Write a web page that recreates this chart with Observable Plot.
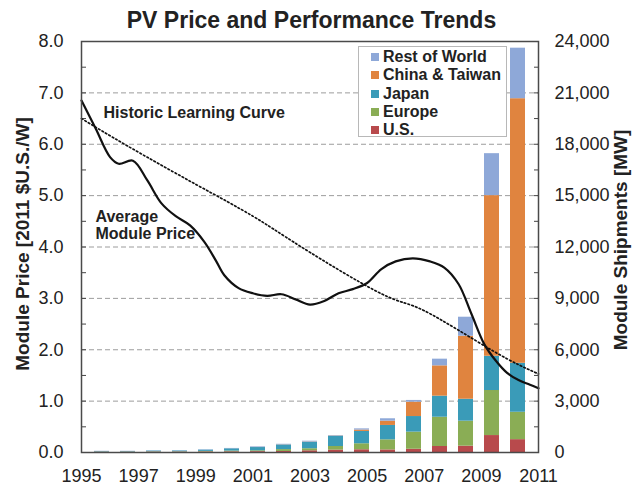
<!DOCTYPE html>
<html><head><meta charset="utf-8">
<script src="https://cdn.jsdelivr.net/npm/d3@7"></script>
<script src="https://cdn.jsdelivr.net/npm/@observablehq/plot@0.6"></script>
<style>
body{margin:0;background:#fff;font-family:"Liberation Sans",Arial,sans-serif;}
#wrap{position:relative;width:639px;height:486px;overflow:hidden;background:#fff}
#wrap svg{position:absolute;left:0;top:0;}
#title{position:absolute;left:0;width:623px;top:7px;text-align:center;font-weight:bold;font-size:23px;color:#222;z-index:5;line-height:26px}
#legend{position:absolute;left:358px;top:46px;width:149px;height:91px;border:1px solid #b8b8b8;background:#fff;z-index:5;box-sizing:border-box;padding-top:1px}
.li{height:18.3px;line-height:18.3px;font-weight:bold;font-size:16px;color:#222;white-space:nowrap;padding-left:12px}
.sw{display:inline-block;width:8px;height:8px;margin-right:4px;vertical-align:1px}
</style></head><body>
<div id="wrap"><div id="title">PV Price and Performance Trends</div><div id="legend"></div></div>
<script>
// ---- data ----
const years = [1995,1996,1997,1998,1999,2000,2001,2002,2003,2004,2005,2006,2007,2008,2009,2010,2011];
const regions = ["U.S.","Europe","Japan","China & Taiwan","Rest of World"];
const regionColors = ["#b84a4c","#8aad55","#3a9bb8","#e0843f","#8ea8d8"];
// module shipments [MW]
const usMW     = [20,20,25,25,35,40,50,60,100,140,160,150,190,350,370,990,750];
const europeMW = [15,15,20,20,30,45,50,110,120,210,350,590,1000,1710,1460,2630,1600];
const japanMW  = [25,25,40,45,75,130,190,270,380,600,720,840,910,1230,1280,2000,2860];
const chinaMW  = [0,0,0,0,0,2,5,10,15,15,80,250,840,1770,3680,9380,15450];
const rowMW    = [10,10,15,15,20,20,35,30,45,25,70,140,100,390,1110,2450,2950];
// average module price [2011 $/W]
const priceYear = [1995,1995.5,1996,1996.3,1996.8,1997.3,1997.8,1998.3,1998.8,1999.3,1999.7,2000,2000.5,2001,2001.5,2002,2002.5,2003,2003.5,2004,2004.5,2005,2005.5,2006,2006.6,2007.2,2007.7,2008.2,2008.65,2009.1,2009.5,2009.9,2010.3,2010.7,2011];
const priceVal  = [6.85,6.3,5.75,5.62,5.68,5.3,4.85,4.6,4.42,4.1,3.74,3.45,3.2,3.1,3.05,3.08,2.98,2.88,2.95,3.1,3.18,3.3,3.57,3.72,3.78,3.72,3.6,3.28,2.7,2.11,1.79,1.55,1.41,1.32,1.25];
// historic learning curve
const learnYear = [1995,1996.6,1999,2001,2002.7,2005.5,2007,2009.4,2011];
const learnVal  = [6.5,5.97,5.22,4.6,4.0,3.09,2.76,1.98,1.53];
// ticks & labels
const yearTicks = [1995,1997,1999,2001,2003,2005,2007,2009,2011];
const priceTicks = [0,1,2,3,4,5,6,7,8];
const priceMinor = [0,0.5,1,1.5,2,2.5,3,3.5,4,4.5,5,5.5,6,6.5,7,7.5,8];
const shipTicks = [0,3000,6000,9000,12000,15000,18000,21000,24000];
const shipMinor = [0,1500,3000,4500,6000,7500,9000,10500,12000,13500,15000,16500,18000,19500,21000,22500,24000];
const gridShip = [3000,6000,9000,12000,15000,18000,21000];
const leftTitle = "Module Price [2011 $U.S./W]";
const rightTitle = "Module Shipments [MW]";
const noteText = ["Historic Learning Curve","Average\nModule Price"];
const noteYear = [1995.77,1995.49];
const notePrice = [6.62,4.43];

// ---- build ----
const FONT = '"Liberation Sans",Arial,sans-serif';
const M = {width:639,height:486,marginLeft:81,marginRight:101,marginTop:41,marginBottom:34};
const series = [usMW,europeMW,japanMW,chinaMW,rowMW];
const rows = [];
regions.forEach((r,k)=>years.forEach((yr,i)=>rows.push({year:String(yr),region:r,mw:series[k][i]})));
const price = priceYear.map((y,i)=>({year:y,price:priceVal[i]}));
const learn = learnYear.map((y,i)=>({year:y,price:learnVal[i]}));
const notes = noteText.map((t,i)=>({t,year:noteYear[i],price:notePrice[i]}));

const bars = Plot.plot({
  ...M,
  style:{background:"transparent",fontFamily:FONT,fontSize:"18px",color:"#222",overflow:"visible"},
  x:{type:"band",domain:years.map(String),paddingInner:0.42,paddingOuter:0.21,axis:null},
  y:{domain:[0,24000],axis:null},
  color:{domain:regions,range:regionColors},
  marks:[
    Plot.ruleY(gridShip,{stroke:"#9c9c9c",strokeDasharray:"5,3",strokeWidth:1}),
    Plot.barY(rows,{x:"year",y:"mw",fill:"region",order:regions}),
    Plot.axisY({anchor:"right",ticks:shipTicks,tickFormat:d3.format(","),tickSize:0,tickPadding:16,label:null,fontSize:18}),
    Plot.axisY({anchor:"right",ticks:shipMinor,tickSize:-5,tickFormat:()=>"",label:null,stroke:"#444"}),
    Plot.text([rightTitle],{frameAnchor:"right",textAnchor:"middle",dx:82,dy:-7,rotate:-90,text:d=>d,fontWeight:"bold",fontSize:19,fill:"#222"})
  ]
});

const lines = Plot.plot({
  ...M,
  style:{background:"transparent",fontFamily:FONT,fontSize:"18px",color:"#222",overflow:"visible"},
  x:{domain:[1995,2011]},
  y:{domain:[0,8]},
  marks:[
    Plot.axisX({ticks:yearTicks,tickFormat:d=>String(d),tickSize:0,tickPadding:17,label:null,fontSize:18}),
    Plot.axisY({ticks:priceTicks,tickFormat:d3.format(".1f"),tickSize:0,tickPadding:18,label:null,fontSize:18}),
    Plot.axisY({ticks:priceMinor,tickSize:-5,tickFormat:()=>"",label:null,stroke:"#444"}),
    Plot.line(learn,{x:"year",y:"price",curve:"natural",stroke:"#111",strokeWidth:1.7,strokeDasharray:"1.6,2.4"}),
    Plot.line(price,{x:"year",y:"price",curve:"catmull-rom",stroke:"#111",strokeWidth:2.2}),
    Plot.text(notes,{x:"year",y:"price",text:"t",textAnchor:"start",fontWeight:"bold",fontSize:16,lineHeight:1.07,fill:"#222"}),
    Plot.text([leftTitle],{frameAnchor:"left",textAnchor:"middle",dx:-59,dy:-3,rotate:-90,text:d=>d,fontWeight:"bold",fontSize:19,fill:"#222"}),
    Plot.frame({stroke:"#4a4a4a",strokeWidth:1.5})
  ]
});

const wrap = document.getElementById("wrap");
wrap.appendChild(bars);
wrap.appendChild(lines);
const leg = document.getElementById("legend");
regions.slice().reverse().forEach(r=>{
  const d = document.createElement("div"); d.className="li";
  const s = document.createElement("span"); s.className="sw"; s.style.background = regionColors[regions.indexOf(r)];
  d.appendChild(s); d.appendChild(document.createTextNode(r)); leg.appendChild(d);
});
</script>
</body></html>
